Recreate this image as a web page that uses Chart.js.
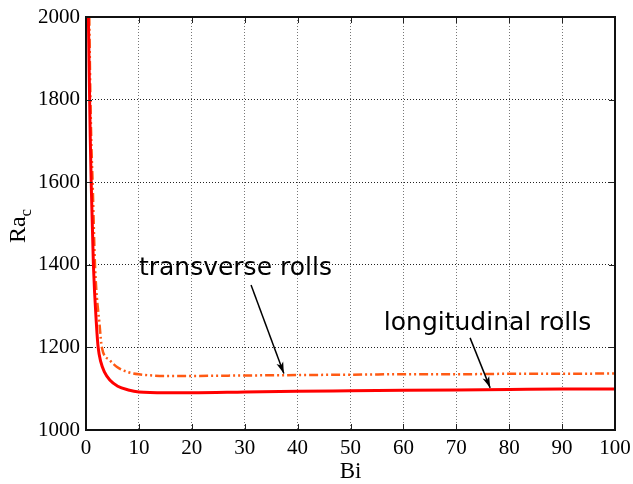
<!DOCTYPE html>
<html>
<head>
<meta charset="utf-8">
<script src="https://cdn.jsdelivr.net/npm/chart.js@4.4.0/dist/chart.umd.min.js"></script>
<style>
  html, body { margin: 0; padding: 0; background: #fff; }
  #wrap { width: 633px; height: 484px; }
</style>
</head>
<body>
<div id="wrap"><canvas id="rac" width="633" height="484"></canvas></div>
<script>
// critical Rayleigh number against Biot number
const biLongitudinal = [0.45, 0.6, 0.8, 1.0, 1.4, 2.0, 2.3, 2.8, 3.5, 4.5, 6, 8, 10, 15, 20, 30, 40, 50, 60, 70, 80, 90, 100];
const raLongitudinal = [2000, 1870, 1710, 1590, 1400, 1250, 1200, 1165, 1140, 1121, 1106, 1097, 1092, 1090, 1090, 1092, 1094, 1095, 1096, 1097, 1098, 1099, 1099];

const biTransverse = [0.62, 0.8, 1.0, 1.25, 1.7, 2.6, 3.0, 4.5, 5.8, 8, 10, 15, 20, 30, 40, 50, 60, 70, 80, 90, 100];
const raTransverse = [2000, 1830, 1700, 1600, 1400, 1250, 1200, 1169, 1153, 1140, 1135, 1131, 1131, 1132, 1133, 1134, 1135, 1135, 1136, 1136, 1137];

const xTicks = [0, 10, 20, 30, 40, 50, 60, 70, 80, 90, 100];
const yTicks = [1000, 1200, 1400, 1600, 1800, 2000];

const toPoints = (xs, ys) => xs.map((x, i) => ({ x: x, y: ys[i] }));

// text labels with arrows pointing at the curves (data coordinates)
const callouts = [
  { text: "transverse rolls", at: [10, 1390], from: [31.2, 1351], to: [37.4, 1137] },
  { text: "longitudinal rolls", at: [56.3, 1259], from: [72.6, 1223], to: [76.4, 1102] }
];

const serif = "'Liberation Serif', 'DejaVu Serif', serif";

const frame = {
  id: "frame",
  afterDatasetsDraw(chart) {
    const { ctx, chartArea: a, scales } = chart;
    const sx = scales.x, sy = scales.y;
    ctx.save();
    // inward tick marks on all four sides
    ctx.strokeStyle = "#222";
    ctx.lineWidth = 1;
    ctx.beginPath();
    xTicks.forEach(v => {
      const px = Math.round(sx.getPixelForValue(v)) + 0.5;
      ctx.moveTo(px, a.bottom); ctx.lineTo(px, a.bottom - 6);
      ctx.moveTo(px, a.top); ctx.lineTo(px, a.top + 6);
    });
    yTicks.forEach(v => {
      const py = Math.round(sy.getPixelForValue(v)) + 0.5;
      ctx.moveTo(a.left, py); ctx.lineTo(a.left + 6, py);
      ctx.moveTo(a.right, py); ctx.lineTo(a.right - 6, py);
    });
    ctx.stroke();
    // box
    ctx.strokeStyle = "#111";
    ctx.lineWidth = 2;
    ctx.strokeRect(a.left, a.top, a.right - a.left, a.bottom - a.top);

    // callouts
    ctx.fillStyle = "#000";
    ctx.font = "25px 'DejaVu Sans', sans-serif";
    ctx.textBaseline = "middle";
    ctx.textAlign = "left";
    callouts.forEach(c => {
      ctx.fillText(c.text, sx.getPixelForValue(c.at[0]), sy.getPixelForValue(c.at[1]));
      const x1 = sx.getPixelForValue(c.from[0]), y1 = sy.getPixelForValue(c.from[1]);
      const x2 = sx.getPixelForValue(c.to[0]), y2 = sy.getPixelForValue(c.to[1]);
      ctx.strokeStyle = "#000";
      ctx.lineWidth = 1.5;
      ctx.beginPath();
      ctx.moveTo(x1, y1); ctx.lineTo(x2, y2);
      ctx.stroke();
      const ang = Math.atan2(y2 - y1, x2 - x1);
      const len = 12, wid = 0.3;
      ctx.beginPath();
      ctx.moveTo(x2, y2);
      ctx.lineTo(x2 - len * Math.cos(ang - wid), y2 - len * Math.sin(ang - wid));
      ctx.lineTo(x2 - len * 0.7 * Math.cos(ang), y2 - len * 0.7 * Math.sin(ang));
      ctx.lineTo(x2 - len * Math.cos(ang + wid), y2 - len * Math.sin(ang + wid));
      ctx.closePath();
      ctx.fill();
    });

    // axis titles
    ctx.font = "23px " + serif;
    ctx.textAlign = "center";
    ctx.textBaseline = "alphabetic";
    ctx.fillText("Bi", (a.left + a.right) / 2, 478);

    ctx.translate(25, 226);
    ctx.rotate(-Math.PI / 2);
    ctx.textAlign = "left";
    ctx.font = "24px " + serif;
    const w = ctx.measureText("Ra").width;
    ctx.font = "17px " + serif;
    const wc = ctx.measureText("c").width;
    ctx.font = "24px " + serif;
    ctx.fillText("Ra", -(w + wc) / 2, 0);
    ctx.font = "17px " + serif;
    ctx.fillText("c", -(w + wc) / 2 + w, 6);
    ctx.restore();
  }
};

new Chart(document.getElementById("rac").getContext("2d"), {
  type: "scatter",
  data: {
    datasets: [
      {
        label: "longitudinal rolls",
        data: toPoints(biLongitudinal, raLongitudinal),
        showLine: true,
        borderColor: "#ff0000",
        borderWidth: 3,
        pointRadius: 0,
        cubicInterpolationMode: "monotone"
      },
      {
        label: "transverse rolls",
        data: toPoints(biTransverse, raTransverse),
        showLine: true,
        borderColor: "#ff5a14",
        borderWidth: 2.5,
        borderDash: [9, 3, 2, 3, 2, 3],
        pointRadius: 0,
        cubicInterpolationMode: "monotone"
      }
    ]
  },
  options: {
    responsive: false,
    animation: false,
    clip: true,
    layout: { padding: { left: 0, top: 17, right: 18, bottom: 0 } },
    plugins: { legend: { display: false }, tooltip: { enabled: false } },
    scales: {
      x: {
        type: "linear",
        min: 0,
        max: 100,
        afterFit(scale) {
          scale.height = 54;
          scale.paddingLeft = 0;
          scale.paddingRight = 0;
        },
        afterBuildTicks(scale) { scale.ticks = xTicks.map(v => ({ value: v })); },
        grid: { color: "#777", lineWidth: 1, drawTicks: false },
        border: { display: false, dash: [1, 2] },
        ticks: { color: "#000", font: { family: serif, size: 21 }, padding: 6, maxRotation: 0 }
      },
      y: {
        type: "linear",
        min: 1000,
        max: 2000,
        afterFit(scale) {
          scale.width = 86;
          scale.paddingTop = 0;
          scale.paddingBottom = 0;
        },
        afterBuildTicks(scale) { scale.ticks = yTicks.map(v => ({ value: v })); },
        grid: { color: "#222", lineWidth: 1, drawTicks: false },
        border: { display: false, dash: [1, 2] },
        ticks: {
          color: "#000",
          font: { family: serif, size: 21 },
          padding: 6,
          callback: v => String(v)
        }
      }
    }
  },
  plugins: [frame]
});
</script>
</body>
</html>
